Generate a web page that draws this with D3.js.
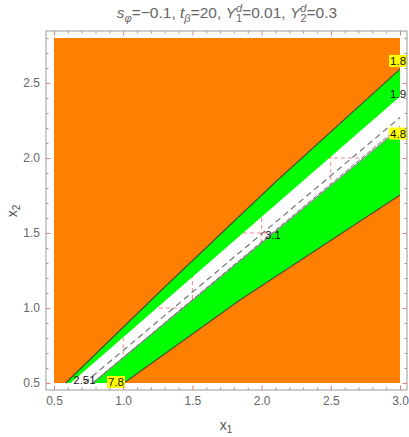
<!DOCTYPE html>
<html><head><meta charset="utf-8">
<script src="https://cdn.jsdelivr.net/npm/d3@7"></script>
<style>body{margin:0;background:#fff}svg{display:block}text{font-family:"Liberation Sans",Arial,sans-serif}</style>
</head><body><svg id="c" width="409" height="437"></svg>
<script>
// ---- data ----
const xDomain = [0.5, 3.0];
const yDomain = [0.5, 2.8];
const xMajor = [0.5, 1.0, 1.5, 2.0, 2.5, 3.0];
const yMajor = [0.5, 1.0, 1.5, 2.0, 2.5];
const gridX = [1.0, 1.5, 2.0, 2.5];
const gridY = [1.0, 1.5, 2.0, 2.5];
// contour boundaries (x1, x2)
const lineA = [[0.584, 0.5], [1.3, 1.14], [2.1, 1.84], [3.0, 2.593]];   // 1.8
const lineB = [[0.62, 0.5], [3.0, 2.41]];                                // 1.9
const lineE = [[0.72, 0.5], [3.0, 2.27]];                                // 2.51
const lineC2 = [[0.78, 0.5], [3.0, 2.213]];                              // 3.1
const lineC = [[0.78, 0.5], [3.0, 2.199]];                               // 4.8
const lineD = [[1.006, 0.5], [1.844, 1.053], [3.0, 1.753]];              // 7.8
const contourLabels = [
  {t: "1.8", x: 2.986, y: 2.647, bg: true},
  {t: "1.9", x: 2.986, y: 2.427, bg: false},
  {t: "4.8", x: 2.986, y: 2.163, bg: true},
  {t: "3.1", x: 2.082, y: 1.487, bg: false},
  {t: "2.51", x: 0.72, y: 0.517, bg: false},
  {t: "7.8", x: 0.948, y: 0.507, bg: true}
];

// ---- layout ----
const svg = d3.select("#c");
const x = d3.scaleLinear().domain(xDomain).range([54, 400]);
const y = d3.scaleLinear().domain(yDomain).range([383, 38]);
const F = {l: 46, r: 407, t: 31, b: 390};
const line = d3.line().x(d => x(d[0])).y(d => y(d[1]));

const [x0, x1e] = xDomain, [y0, y1e] = yDomain;
// grid (visible only in white band)
const g = svg.append("g");
gridX.forEach(v => g.append("line").attr("x1", x(v)).attr("x2", x(v)).attr("y1", y(y0)).attr("y2", y(y1e))
  .attr("stroke", "#f08a8a").attr("stroke-width", 1).attr("stroke-dasharray", "4,3"));
gridY.forEach(v => g.append("line").attr("y1", y(v)).attr("y2", y(v)).attr("x1", x(x0)).attr("x2", x(x1e))
  .attr("stroke", "#f08a8a").attr("stroke-width", 1).attr("stroke-dasharray", "4,3"));

const ORANGE = "#ff8000", GREEN = "#00ff00";
const poly = pts => svg.append("path").attr("d", line(pts) + "Z");
// orange upper-left
poly([[x0, y0], ...lineA, [x1e, y1e], [x0, y1e]]).attr("fill", ORANGE);
// green upper
poly([...lineA, ...lineB.slice().reverse()]).attr("fill", GREEN);
// green lower
poly([...lineC, ...lineD.slice().reverse()]).attr("fill", GREEN);
// orange lower-right
poly([...lineD, [x1e, y0]]).attr("fill", ORANGE);

// contour lines
const stroke = (pts, col, w, dash) => svg.append("path").attr("d", line(pts)).attr("fill", "none")
  .attr("stroke", col).attr("stroke-width", w).attr("stroke-dasharray", dash || null);
stroke(lineA, "#4a4a3a", 1.1);
stroke(lineD, "#4a4a3a", 1.1);
stroke(lineE, "#777", 1.2, "6,4");
stroke(lineC, "#8a8a8a", 1.1);
stroke(lineC2, "#777", 1.0, "5,2");

// contour labels
contourLabels.forEach(d => {
  const t = svg.append("text").attr("x", x(d.x)).attr("y", y(d.y) + 4).attr("text-anchor", "middle")
    .attr("font-size", 11.5).attr("fill", "#111").text(d.t);
  if (d.bg) {
    const bb = t.node().getBBox();
    svg.insert("rect", () => t.node()).attr("x", bb.x - 1).attr("y", bb.y).attr("width", bb.width + 2)
      .attr("height", bb.height).attr("fill", "#ffff00");
  }
});

// frame
svg.append("rect").attr("x", F.l).attr("y", F.t).attr("width", F.r - F.l).attr("height", F.b - F.t)
  .attr("fill", "none").attr("stroke", "#9a9a9a").attr("stroke-width", 1);

const minorX = d3.range(5, 31).map(v => v / 10).filter(v => !xMajor.some(m => Math.abs(m - v) < 1e-9));
const minorY = d3.range(5, 29).map(v => v / 10).filter(v => !yMajor.some(m => Math.abs(m - v) < 1e-9));
const MAJ = "#d98080", MIN = "#9a9a9a";
function axis(gen, tr, vals, size, col, labels) {
  const a = svg.append("g").attr("transform", tr)
    .call(gen.tickValues(vals).tickSizeInner(-size).tickSizeOuter(0).tickPadding(6)
      .tickFormat(labels ? d3.format(".1f") : () => ""));
  a.select(".domain").remove();
  a.selectAll(".tick line").attr("stroke", col);
  a.selectAll(".tick text").attr("fill", "#666").attr("font-size", 12).style("font-family", "'Liberation Sans',Arial,sans-serif");
  return a;
}
axis(d3.axisBottom(x), `translate(0,${F.b})`, minorX, 2.5, MIN, false);
axis(d3.axisBottom(x), `translate(0,${F.b})`, xMajor, 4.5, MAJ, true);
axis(d3.axisTop(x), `translate(0,${F.t})`, minorX, 2.5, MIN, false);
axis(d3.axisTop(x), `translate(0,${F.t})`, xMajor, 4.5, MAJ, false);
axis(d3.axisLeft(y), `translate(${F.l},0)`, minorY, 2.5, MIN, false);
axis(d3.axisLeft(y), `translate(${F.l},0)`, yMajor, 4.5, MAJ, true);
axis(d3.axisRight(y), `translate(${F.r},0)`, minorY, 2.5, MIN, false);
axis(d3.axisRight(y), `translate(${F.r},0)`, yMajor, 4.5, MAJ, false);

// axis titles
const xl = svg.append("text").attr("x", 226).attr("y", 430).attr("text-anchor", "middle").attr("fill", "#555").attr("font-size", 14);
xl.append("tspan").text("x"); xl.append("tspan").attr("font-size", 10).attr("dy", 3).text("1");
const yl = svg.append("text").attr("transform", "translate(17,211) rotate(-90)").attr("text-anchor", "middle").attr("fill", "#555").attr("font-size", 14);
yl.append("tspan").text("x"); yl.append("tspan").attr("font-size", 10).attr("dy", 3).text("2");

// title
const tt = svg.append("text").attr("x", 227).attr("y", 18).attr("text-anchor", "middle").attr("fill", "#666").attr("font-size", 15.5);
const sp = (txt, o = {}) => { const s = tt.append("tspan").text(txt); Object.entries(o).forEach(([k, v]) => s.attr(k, v)); return s; };
sp("s", {"font-style": "italic"}); sp("φ", {"font-style": "italic", "font-size": 11, dy: 4}); sp("=−0.1, ", {dy: -4});
sp("t", {"font-style": "italic"}); sp("β", {"font-style": "italic", "font-size": 11, dy: 4}); sp("=20,  ", {dy: -4});
sp("Y", {"font-style": "italic"}); sp("d", {"font-style": "italic", "font-size": 11, dy: -6}); sp("1", {"font-size": 11, dx: -6, dy: 10}); sp("=0.01,  ", {dy: -4});
sp("Y", {"font-style": "italic"}); sp("d", {"font-style": "italic", "font-size": 11, dy: -6}); sp("2", {"font-size": 11, dx: -6, dy: 10}); sp("=0.3", {dy: -4});
</script></body></html>
